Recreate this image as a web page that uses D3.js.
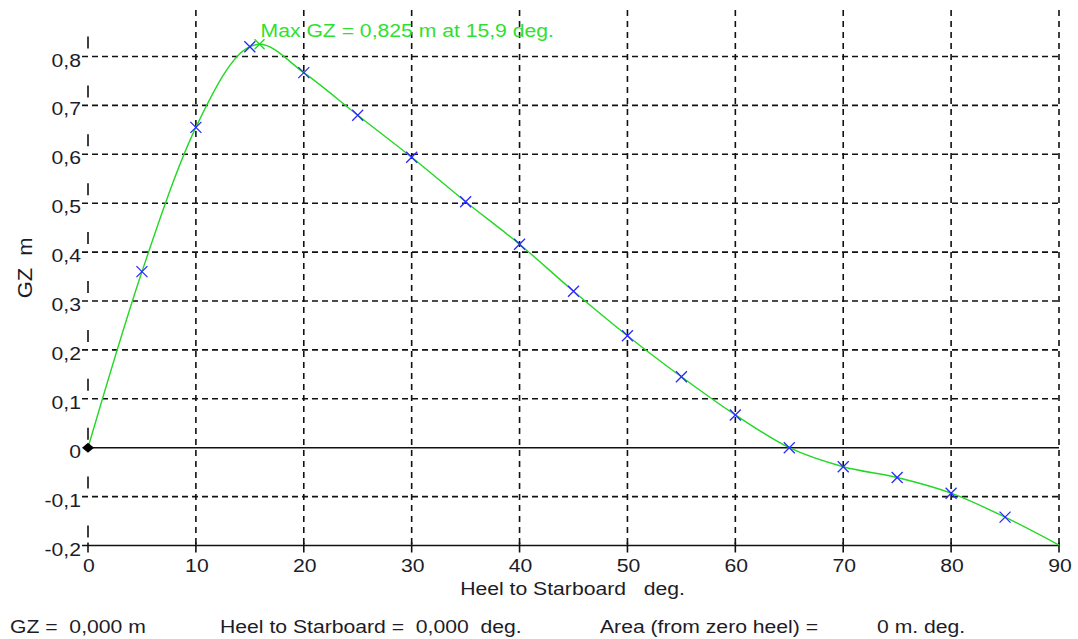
<!DOCTYPE html>
<html>
<head>
<meta charset="utf-8">
<script src="https://cdn.jsdelivr.net/npm/d3@7"></script>
<style>
  html, body { margin: 0; padding: 0; background: #fff; }
  svg { display: block; font-family: "Liberation Sans", Arial, sans-serif; }
</style>
</head>
<body>
<svg id="chart" width="1078" height="639"></svg>
<script>
// Righting lever (GZ) curve, heel to starboard
const heelTicks = [0, 10, 20, 30, 40, 50, 60, 70, 80, 90];
const gzTicks = [-0.2, -0.1, 0, 0.1, 0.2, 0.3, 0.4, 0.5, 0.6, 0.7, 0.8];
const gzTickLabels = ["-0,2", "-0,1", "0", "0,1", "0,2", "0,3", "0,4", "0,5", "0,6", "0,7", "0,8"];

// computed stations (blue crosses)
const stationHeel = [5, 10, 15, 20, 25, 30, 35, 40, 45, 50, 55, 60, 65, 70, 75, 80, 85];
const stationGZ = [0.360, 0.655, 0.820, 0.767, 0.680, 0.594, 0.503, 0.416, 0.320, 0.229, 0.145, 0.067, 0.000, -0.039, -0.061, -0.093, -0.142];

// curve ends and maximum
const curveHeel = [0, 5, 10, 15, 15.9, 20, 25, 30, 35, 40, 45, 50, 55, 60, 65, 70, 75, 80, 85, 90];
const curveGZ = [0, 0.360, 0.655, 0.820, 0.825, 0.767, 0.680, 0.594, 0.503, 0.416, 0.320, 0.229, 0.145, 0.067, 0.000, -0.039, -0.061, -0.093, -0.142, -0.199];

const maxHeel = 15.9, maxGZ = 0.825;
const maxLabel = "Max GZ = 0,825 m at 15,9 deg.";

const FONT = 17.5, STRETCH = 1.21, TEXT = "#1c1c28";

const svg = d3.select("#chart");
const x = d3.scaleLinear().domain([0, 90]).range([88, 1059]);
const y = d3.scaleLinear().domain([-0.2, 0.8]).range([545.5, 56.5]);
const yTop = y(0.895);

// text drawn with the wide letterforms of the plotting program
function label(sel, tx, ty, anchor) {
  return sel.attr("transform", (d, i) => `translate(${tx(d, i)},${ty(d, i)}) scale(${STRETCH},1)`)
    .attr("text-anchor", anchor).attr("font-size", FONT).attr("fill", TEXT)
    .attr("xml:space", "preserve");
}

const grid = svg.append("g");
// horizontal dashed grid
grid.selectAll("line.h")
  .data(gzTicks.filter(v => v !== 0 && v !== -0.2))
  .join("line")
  .attr("x1", x(0) - 6).attr("x2", x(90))
  .attr("y1", d => y(d)).attr("y2", d => y(d))
  .attr("stroke", "#111").attr("stroke-width", 1.6)
  .attr("stroke-dasharray", "6,4");
// vertical dashed grid
grid.selectAll("line.v")
  .data(heelTicks.filter(v => v !== 0))
  .join("line")
  .attr("x1", d => x(d)).attr("x2", d => x(d))
  .attr("y1", yTop).attr("y2", y(-0.2))
  .attr("stroke", "#111").attr("stroke-width", 1.6)
  .attr("stroke-dasharray", "6,5");
// left axis: short dashes above each tick
grid.selectAll("line.l")
  .data(gzTicks)
  .join("line")
  .attr("x1", x(0)).attr("x2", x(0))
  .attr("y1", d => y(d) - 20).attr("y2", d => y(d) - 8)
  .attr("stroke", "#111").attr("stroke-width", 1.6);

// zero line and bottom axis
svg.append("line").attr("x1", x(0)).attr("x2", x(90)).attr("y1", y(0)).attr("y2", y(0))
  .attr("stroke", "#111").attr("stroke-width", 1.6);
svg.append("line").attr("x1", x(0) - 6).attr("x2", x(90)).attr("y1", y(-0.2)).attr("y2", y(-0.2))
  .attr("stroke", "#111").attr("stroke-width", 1.6);
svg.selectAll("line.bt").data(heelTicks).join("line")
  .attr("x1", d => x(d)).attr("x2", d => x(d))
  .attr("y1", y(-0.2) - 3).attr("y2", y(-0.2) + 7)
  .attr("stroke", "#111").attr("stroke-width", 1.6);

// tick labels
label(svg.selectAll("text.xt").data(heelTicks).join("text"), d => x(d) + 1, () => 571.5, "middle")
  .text(d => d);
label(svg.selectAll("text.yt").data(gzTicks).join("text"), () => 81, d => y(d) + 10, "end")
  .text((d, i) => gzTickLabels[i]);

// axis titles
svg.append("text").attr("transform", "translate(32,268) rotate(-90) scale(1.25,1.2)")
  .attr("text-anchor", "middle").attr("font-size", FONT).attr("fill", TEXT)
  .attr("xml:space", "preserve").text("GZ  m");
label(svg.append("text").datum(0), () => 572.5, () => 594.5, "middle")
  .text("Heel to Starboard   deg.");

// GZ curve
const line = d3.line().x((d, i) => x(curveHeel[i])).y(d => y(d)).curve(d3.curveMonotoneX);
svg.append("path").datum(curveGZ).attr("d", line)
  .attr("fill", "none").attr("stroke", "#22d822").attr("stroke-width", 1.4);

// station crosses
const cross = (g, cx, cy, r, color) => {
  g.append("path")
    .attr("d", `M${cx - r},${cy - r}L${cx + r},${cy + r}M${cx - r},${cy + r}L${cx + r},${cy - r}`)
    .attr("stroke", color).attr("stroke-width", 1.3).attr("fill", "none");
};
const marks = svg.append("g");
stationHeel.forEach((h, i) => cross(marks, x(h), y(stationGZ[i]), 5.5, "#2a2aff"));

// maximum marker and label
cross(marks, x(maxHeel), y(maxGZ), 5, "#22d822");
svg.append("text").datum(0)
  .attr("transform", `translate(${x(maxHeel) + 1},37) scale(${STRETCH},1)`)
  .attr("font-size", FONT).attr("fill", "#2fe02f").text(maxLabel);

// origin marker (current heel)
const ox = x(0), oy = y(0);
svg.append("path")
  .attr("d", `M${ox - 6},${oy}L${ox},${oy - 5}L${ox + 6},${oy}L${ox},${oy + 5}Z`)
  .attr("fill", "#000");

// status line
const status = [
  { x: 10, t: "GZ =  0,000 m" },
  { x: 220, t: "Heel to Starboard =  0,000  deg." },
  { x: 600, t: "Area (from zero heel) =" },
  { x: 877, t: "0 m. deg." }
];
label(svg.selectAll("text.st").data(status).join("text"), d => d.x, () => 633, "start")
  .text(d => d.t);
</script>
</body>
</html>
